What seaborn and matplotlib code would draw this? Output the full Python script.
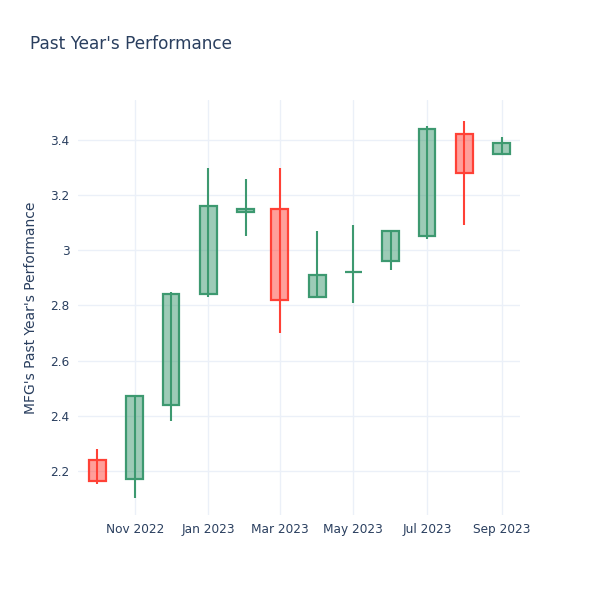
import pandas as pd
import numpy as np
import matplotlib
matplotlib.use('Agg')
import matplotlib.pyplot as plt
import matplotlib.dates as mdates
from matplotlib.ticker import FuncFormatter
import seaborn as sns

# monthly candles
months = ['2022-10-01', '2022-11-01', '2022-12-01', '2023-01-01', '2023-02-01', '2023-03-01',
          '2023-04-01', '2023-05-01', '2023-06-01', '2023-07-01', '2023-08-01', '2023-09-01']
opens = [2.24, 2.17, 2.44, 2.84, 3.14, 3.15, 2.83, 2.92, 2.96, 3.05, 3.42, 3.35]
highs = [2.28, 2.475, 2.85, 3.30, 3.26, 3.30, 3.07, 3.09, 3.07, 3.45, 3.47, 3.41]
lows = [2.153, 2.10, 2.38, 2.83, 3.05, 2.70, 2.83, 2.81, 2.93, 3.04, 3.09, 3.35]
closes = [2.163, 2.47, 2.84, 3.16, 3.15, 2.82, 2.91, 2.92, 3.07, 3.44, 3.28, 3.39]

df = pd.DataFrame({'date': pd.to_datetime(months), 'open': opens, 'high': highs,
                   'low': lows, 'close': closes})
df['up'] = df['close'] >= df['open']

sns.set_theme(style='white')
plt.rcParams['font.family'] = ['DejaVu Sans']

text_col = '#2a3f5f'
grid_col = '#EBF0F8'
green = '#3D9970'
red = '#FF4136'

fig = plt.figure(figsize=(6, 6), dpi=100)
ax = fig.add_axes([78 / 600, 1 - 515 / 600, (520 - 78) / 600, (515 - 100) / 600])

for _, r in df.iterrows():
    col = green if r['up'] else red
    lo_b = min(r['open'], r['close'])
    hi_b = max(r['open'], r['close'])
    ax.vlines(r['date'], r['low'], r['high'], color=col, lw=1.5, zorder=2)
    ax.bar(r['date'], hi_b - lo_b, bottom=lo_b, width=14, color=col, alpha=0.5,
           linewidth=0, zorder=3)
    ax.bar(r['date'], hi_b - lo_b, bottom=lo_b, width=14, fill=False, edgecolor=col,
           linewidth=1.6, zorder=4)

ax.set_xlim(pd.Timestamp('2022-09-15'), pd.Timestamp('2023-09-16'))
ax.set_ylim(2.04, 3.545)

ax.xaxis.set_major_locator(mdates.MonthLocator(bymonth=[1, 3, 5, 7, 9, 11]))
ax.xaxis.set_major_formatter(mdates.DateFormatter('%b %Y'))
ax.set_yticks([2.2, 2.4, 2.6, 2.8, 3.0, 3.2, 3.4])
ax.yaxis.set_major_formatter(FuncFormatter(lambda v, p: f'{v:g}'))

ax.grid(True, color=grid_col, lw=1)
ax.set_axisbelow(True)
for s in ax.spines.values():
    s.set_visible(False)
ax.tick_params(length=0, labelsize=8.7, colors=text_col, pad=6)

ax.set_ylabel("MFG's Past Year's Performance", fontsize=10, color=text_col, labelpad=9)
fig.text(30 / 600, 1 - 44 / 600, "Past Year's Performance", fontsize=12.2,
         color=text_col, va='center', ha='left')

fig.savefig('out.png', dpi=100, facecolor='white')
